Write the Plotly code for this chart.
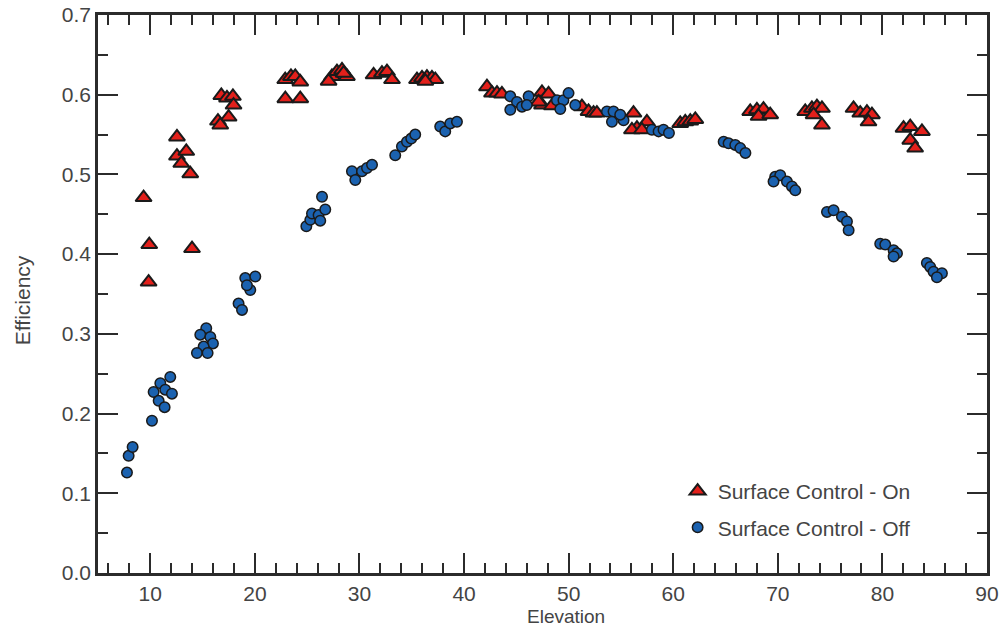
import plotly.graph_objects as go

# Surface Control - On (triangles)
x_on = [9.36, 9.9, 9.84, 13.99, 12.55, 12.55, 13.44, 12.96, 13.82,
        16.79, 17.33, 17.9, 17.96, 16.47, 17.49, 16.69,
        22.9, 23.45, 23.86, 24.34, 22.91, 24.34,
        27.37, 27.05, 27.85, 28.33, 28.8, 28.48,
        31.35, 32.15, 32.63, 33.11,
        35.5, 35.98, 36.45, 36.93, 37.25, 36.3,
        42.19, 42.67, 43.15, 43.62, 47.45, 48.08, 47.45, 48.4, 47.12,
        51.27, 51.9, 52.38, 52.7, 56.2, 57.48, 56.53, 56.05, 57.0, 60.67, 61.15, 61.63, 62.11,
        67.36, 68.0, 68.63, 68.16, 69.27,
        72.62, 73.26, 73.74, 74.22, 73.42, 74.22,
        77.24, 77.88, 78.52, 79.0, 78.67,
        82.02, 82.66, 83.78, 82.66, 83.13]
y_on = [0.471, 0.412, 0.365, 0.407, 0.547, 0.523, 0.529, 0.514, 0.501,
        0.599, 0.596, 0.598, 0.587, 0.567, 0.572, 0.562,
        0.619, 0.623, 0.623, 0.616, 0.595, 0.595,
        0.623, 0.617, 0.629, 0.631, 0.623, 0.627,
        0.625, 0.627, 0.629, 0.619,
        0.619, 0.621, 0.622, 0.621, 0.619, 0.617,
        0.610, 0.602, 0.602, 0.601, 0.603, 0.601, 0.587, 0.586, 0.591,
        0.585, 0.579, 0.577, 0.577, 0.577, 0.566, 0.558, 0.556, 0.556, 0.564, 0.566, 0.567, 0.569,
        0.579, 0.581, 0.582, 0.573, 0.575,
        0.579, 0.583, 0.585, 0.583, 0.575, 0.562,
        0.583, 0.577, 0.578, 0.575, 0.566,
        0.558, 0.560, 0.554, 0.543, 0.533]

# Surface Control - Off (circles)
x_off = [7.77, 7.93, 8.31, 10.16, 10.32, 10.96, 11.91, 11.43, 12.07, 10.80, 11.37,
         15.35, 14.78, 15.74, 15.99, 15.1, 14.46, 15.48,
         18.44, 18.77, 19.08, 20.04, 19.56, 19.24,
         24.92, 25.3, 25.46, 26.09, 26.25, 26.42, 26.73,
         29.28, 29.6, 30.24, 30.72, 31.2,
         33.42, 34.06, 34.54, 34.95, 35.33,
         37.72, 38.2, 38.68, 39.32,
         44.42, 45.06, 44.42, 45.54, 46.17, 46.0, 48.88, 49.5, 49.99, 49.2, 50.63,
         53.66, 54.29, 54.14, 55.25, 54.93, 57.96, 58.6, 59.07, 59.59,
         64.82, 65.29, 65.93, 66.41, 66.9,
         69.75, 70.23, 69.59, 70.87, 71.35, 71.67,
         74.7, 75.33, 76.13, 76.61, 76.77,
         79.79, 80.27, 81.07, 81.39, 81.07,
         84.25, 84.57, 84.89, 85.69, 85.21]
y_off = [0.126, 0.147, 0.158, 0.191, 0.227, 0.238, 0.246, 0.230, 0.225, 0.216, 0.208,
         0.307, 0.299, 0.296, 0.288, 0.284, 0.276, 0.276,
         0.338, 0.330, 0.370, 0.372, 0.355, 0.361,
         0.435, 0.443, 0.451, 0.449, 0.442, 0.472, 0.456,
         0.504, 0.493, 0.504, 0.508, 0.512,
         0.524, 0.535, 0.541, 0.545, 0.550,
         0.560, 0.554, 0.564, 0.566,
         0.598, 0.591, 0.581, 0.585, 0.598, 0.587, 0.593, 0.593, 0.602, 0.582, 0.587,
         0.579, 0.579, 0.566, 0.568, 0.575, 0.556, 0.554, 0.556, 0.552,
         0.541, 0.539, 0.537, 0.533, 0.527,
         0.497, 0.499, 0.491, 0.491, 0.485, 0.480,
         0.453, 0.455, 0.447, 0.441, 0.430,
         0.413, 0.412, 0.405, 0.401, 0.397,
         0.389, 0.384, 0.378, 0.376, 0.371]

x_ticks = [10, 20, 30, 40, 50, 60, 70, 80, 90]
y_ticks = [0.0, 0.1, 0.2, 0.3, 0.4, 0.5, 0.6, 0.7]
y_ticklabels = ["0.0", "0.1", "0.2", "0.3", "0.4", "0.5", "0.6", "0.7"]

FONT = "Liberation Sans, Arial, Helvetica, sans-serif"
TXT = "#444444"
AX = "#2b2b2b"

fig = go.Figure()
fig.add_trace(go.Scatter(
    x=x_on, y=y_on, mode="markers", name="Surface Control - On",
    legendgroup="on", legendrank=1,
    marker=dict(symbol="triangle-up", size=14, color="#e3201b",
                line=dict(color="#1a1a1a", width=2))))
fig.add_trace(go.Scatter(
    x=x_off, y=y_off, mode="markers", name="Surface Control - Off",
    legendgroup="off", legendrank=2,
    marker=dict(symbol="circle", size=10.5, color="#1b62b0",
                line=dict(color="#1a1a1a", width=1.5))))

axis_common = dict(
    showline=True, linecolor=AX, linewidth=2.5, mirror="ticks",
    ticks="inside", ticklen=20, tickwidth=2, tickcolor=AX,
    showgrid=False, zeroline=False, automargin=False,
    tickfont=dict(family=FONT, size=21, color=TXT),
)

fig.update_xaxes(range=[5, 90], tickvals=x_ticks,
                 minor=dict(ticks="inside", ticklen=10, tickwidth=2, tickcolor=AX, dtick=2, tick0=0),
                 **axis_common)
fig.update_yaxes(range=[0, 0.7], tickvals=y_ticks, ticktext=y_ticklabels,
                 minor=dict(ticks="inside", ticklen=10, tickwidth=2, tickcolor=AX, dtick=0.05, tick0=0),
                 **axis_common)

fig.add_annotation(text="Efficiency", x=-0.0855, y=0.489, xref="paper", yref="paper",
                   textangle=-90, showarrow=False, xanchor="center", yanchor="middle",
                   font=dict(family=FONT, size=21, color=TXT))
fig.add_annotation(text="Elevation", x=0.526, y=-0.078, xref="paper", yref="paper",
                   showarrow=False, xanchor="center", yanchor="middle",
                   font=dict(family=FONT, size=19, color=TXT))

fig.update_layout(
    width=1000, height=627,
    margin=dict(l=98, r=13, t=15, b=54),
    plot_bgcolor="white", paper_bgcolor="white",
    showlegend=True,
    legend=dict(x=0.652, y=0.183, xanchor="left", yanchor="top",
                bgcolor="rgba(0,0,0,0)", borderwidth=0,
                tracegroupgap=6, itemwidth=30,
                font=dict(family=FONT, size=21, color=TXT)),
)

fig.write_html("out.html")
